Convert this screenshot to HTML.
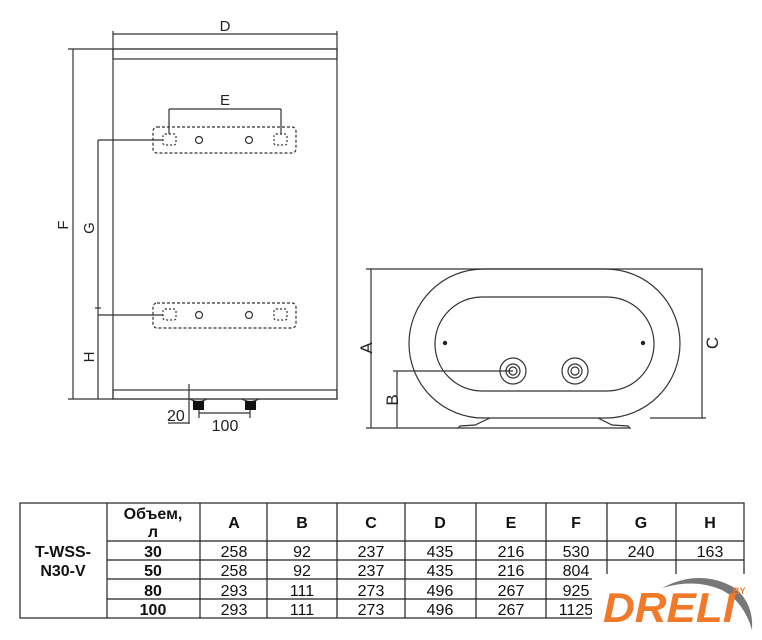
<!DOCTYPE html>
<html><head><meta charset="utf-8"><style>
html,body{margin:0;padding:0;background:#fff;width:762px;height:640px;overflow:hidden}
svg{display:block}
text{font-family:"Liberation Sans",sans-serif}
</style></head><body>
<svg width="762" height="640" viewBox="0 0 762 640" xmlns="http://www.w3.org/2000/svg">
<g stroke="#333" fill="none" stroke-width="1.2">
<rect x="113" y="49" width="224" height="350" />
<rect x="113" y="49" width="224" height="10" />
<rect x="113" y="390" width="224" height="9" />
<line x1="113" y1="34" x2="337" y2="34"/>
<line x1="113" y1="31" x2="113" y2="49"/><line x1="337" y1="31" x2="337" y2="49"/>
<line x1="73" y1="49" x2="73" y2="399"/>
<line x1="68" y1="49" x2="113" y2="49"/><line x1="68" y1="399" x2="113" y2="399"/>
<line x1="98" y1="140" x2="98" y2="399"/>
<line x1="98" y1="140" x2="163" y2="140"/>
<line x1="98" y1="315" x2="163" y2="315"/>
<line x1="95" y1="308" x2="101" y2="308"/>
<rect x="153" y="127" width="143" height="26" rx="4" stroke-dasharray="3,2"/>
<rect x="153" y="303" width="143" height="25" rx="4" stroke-dasharray="3,2"/>
<rect x="163" y="134" width="13" height="11" rx="2" stroke-dasharray="2,2"/>
<rect x="274" y="134" width="13" height="11" rx="2" stroke-dasharray="2,2"/>
<rect x="163" y="309" width="13" height="11" rx="2" stroke-dasharray="2,2"/>
<rect x="274" y="309" width="13" height="11" rx="2" stroke-dasharray="2,2"/>
<circle cx="199" cy="140" r="3.5"/><circle cx="249" cy="140" r="3.5"/>
<circle cx="199" cy="315" r="3.5"/><circle cx="249" cy="315" r="3.5"/>
<line x1="169" y1="109" x2="281" y2="109"/>
<line x1="169" y1="109" x2="169" y2="134"/><line x1="281" y1="109" x2="281" y2="134"/>
<path d="M190 399 Q198 404 207 399 M242 399 Q250 404 259 399"/>
<line x1="189" y1="384" x2="189" y2="424"/>
<line x1="199" y1="410" x2="199" y2="418"/><line x1="250" y1="410" x2="250" y2="418"/>
<line x1="199" y1="413" x2="250" y2="413"/>
<line x1="168" y1="423" x2="189" y2="423"/>
</g>
<rect x="193" y="401" width="11" height="9" fill="#111"/>
<rect x="245" y="401" width="11" height="9" fill="#111"/>
<g font-size="15" fill="#222">
<text x="225" y="31" text-anchor="middle">D</text>
<text x="225" y="105" text-anchor="middle">E</text>
<text x="167" y="421" font-size="16">20</text>
<text x="225" y="431" text-anchor="middle" font-size="16">100</text>
<text transform="translate(68,225) rotate(-90)" text-anchor="middle">F</text>
<text transform="translate(94,228) rotate(-90)" text-anchor="middle">G</text>
<text transform="translate(94,357) rotate(-90)" text-anchor="middle">H</text>
</g>
<g stroke="#333" fill="none" stroke-width="1.2">
<rect x="409" y="269" width="271" height="149" rx="74.5"/>
<rect x="435" y="297" width="219" height="94" rx="47"/>
<circle cx="513" cy="371" r="13"/><circle cx="513" cy="371" r="7"/><circle cx="513" cy="371" r="4"/>
<circle cx="575" cy="371" r="13"/><circle cx="575" cy="371" r="7"/><circle cx="575" cy="371" r="4"/>
<path d="M490 418 L475 425 L460 426 L458 428 L630 428 L628 426 L612 425 L598 418"/>
<line x1="371" y1="269" x2="371" y2="428"/>
<line x1="366" y1="269" x2="703" y2="269"/>
<line x1="366" y1="428" x2="458" y2="428"/>
<line x1="702" y1="269" x2="702" y2="418"/>
<line x1="650" y1="418" x2="706" y2="418"/>
<line x1="397" y1="371" x2="397" y2="428"/>
<line x1="393" y1="371" x2="513" y2="371"/>
</g>
<circle cx="445" cy="343" r="2.2" fill="#222"/><circle cx="643" cy="343" r="2.2" fill="#222"/>
<g font-size="17" fill="#222">
<text transform="translate(372,348) rotate(-90)" text-anchor="middle">A</text>
<text transform="translate(398,400) rotate(-90)" text-anchor="middle">B</text>
<text transform="translate(718,343) rotate(-90)" text-anchor="middle">C</text>
</g>
<g stroke="#222" stroke-width="1.2" fill="none">
<rect x="20" y="503" width="724" height="115"/>
<line x1="107" y1="503" x2="107" y2="618"/>
<line x1="200" y1="503" x2="200" y2="618"/>
<line x1="267" y1="503" x2="267" y2="618"/>
<line x1="337" y1="503" x2="337" y2="618"/>
<line x1="405" y1="503" x2="405" y2="618"/>
<line x1="476" y1="503" x2="476" y2="618"/>
<line x1="546" y1="503" x2="546" y2="618"/>
<line x1="607" y1="503" x2="607" y2="618"/>
<line x1="676" y1="503" x2="676" y2="618"/>
<line x1="107" y1="541" x2="744" y2="541"/>
<line x1="107" y1="560" x2="744" y2="560"/>
<line x1="107" y1="579" x2="744" y2="579"/>
<line x1="107" y1="599" x2="744" y2="599"/>
</g>
<g font-size="16" fill="#111" text-anchor="middle">
<g font-weight="bold">
<text x="63" y="557">T-WSS-</text><text x="63" y="576">N30-V</text>
<text x="153" y="519">Объем,</text><text x="153" y="537">л</text>
<text x="234" y="528">A</text><text x="302" y="528">B</text><text x="371" y="528">C</text><text x="440" y="528">D</text><text x="511" y="528">E</text><text x="576" y="528">F</text><text x="641" y="528">G</text><text x="710" y="528">H</text>
<text x="153" y="557">30</text><text x="153" y="576">50</text><text x="153" y="596">80</text><text x="153" y="615">100</text>
</g>
<text x="234" y="557">258</text><text x="302" y="557">92</text><text x="371" y="557">237</text><text x="440" y="557">435</text><text x="511" y="557">216</text><text x="576" y="557">530</text><text x="641" y="557">240</text><text x="710" y="557">163</text>
<text x="234" y="576">258</text><text x="302" y="576">92</text><text x="371" y="576">237</text><text x="440" y="576">435</text><text x="511" y="576">216</text><text x="576" y="576">804</text>
<text x="234" y="596">293</text><text x="302" y="596">111</text><text x="371" y="596">273</text><text x="440" y="596">496</text><text x="511" y="596">267</text><text x="576" y="596">925</text>
<text x="234" y="615">293</text><text x="302" y="615">111</text><text x="371" y="615">273</text><text x="440" y="615">496</text><text x="511" y="615">267</text><text x="576" y="615">1125</text>
</g>
<rect x="592" y="574" width="170" height="66" fill="#fff"/>
<path d="M662 588 Q700 568 735 588 Q754 604 752 630 Q744 602 722 590 Q695 578 662 588 Z" fill="#777"/>
<text x="603" y="622" font-size="42" font-weight="bold" font-style="italic" fill="#f07a2a" textLength="132" lengthAdjust="spacingAndGlyphs">DRELI</text>
<text x="733" y="594" font-size="9" font-weight="bold" fill="#f07a2a">BY</text>
</svg>
</body></html>
